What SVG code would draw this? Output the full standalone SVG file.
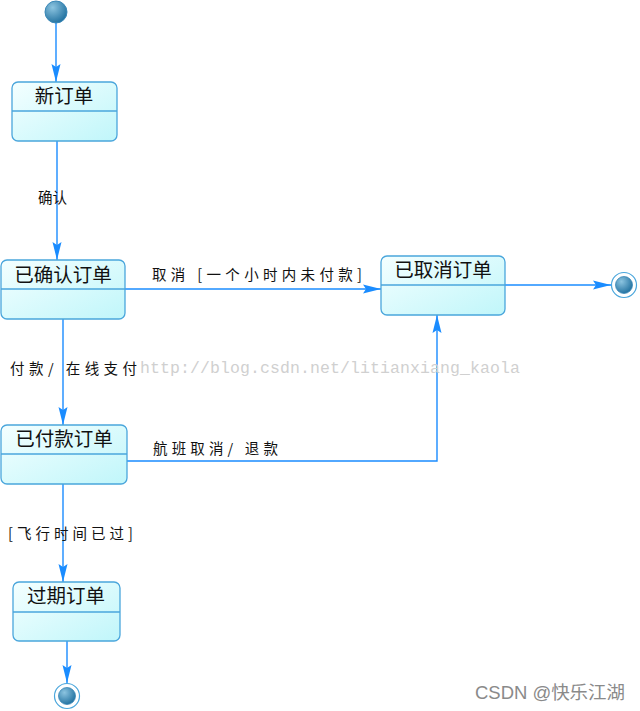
<svg xmlns="http://www.w3.org/2000/svg" width="640" height="711" viewBox="0 0 640 711">
<style>
.box{fill:url(#bg);stroke:#4aa6dc;stroke-width:1.3}
.div{stroke:#4aa6dc;stroke-width:1.3}
.title{font-family:"Noto Sans CJK SC","Noto Sans CJK JP",sans-serif;font-size:19.5px;fill:#111;text-anchor:middle}
.lbl{font-family:"Noto Sans CJK SC","Noto Sans CJK JP",sans-serif;font-size:14.5px;fill:#111}
.edge{stroke:#1a8cff;stroke-width:1.4;fill:none}
.wm{font-family:"Liberation Mono",monospace;font-size:16.5px;fill:#d0d0d0}
.csdn{font-family:"Liberation Sans","Noto Sans CJK SC",sans-serif;font-size:18px;fill:#8a8a8a}
</style>
<defs>
<linearGradient id="bg" x1="0" y1="0" x2="1" y2="1">
<stop offset="0" stop-color="#f4ffff"/>
<stop offset="1" stop-color="#c0f6fa"/>
</linearGradient>
<radialGradient id="ball" cx="0.35" cy="0.3" r="0.75">
<stop offset="0" stop-color="#8cc4e0"/>
<stop offset="1" stop-color="#1f6f9e"/>
</radialGradient>
<marker id="arr" markerUnits="userSpaceOnUse" markerWidth="18" markerHeight="10" refX="18" refY="5" orient="auto">
<path d="M0,0.5 L18,5 L0,9.5 L3,5 z" fill="#1a8cff"/>
</marker>
</defs>

<g id="connectors">
<line class="edge" x1="56" y1="23" x2="56" y2="82" marker-end="url(#arr)"/>
<line class="edge" x1="57" y1="141" x2="57" y2="260" marker-end="url(#arr)"/>
<text class="lbl" x="38" y="203">确认</text>
<line class="edge" x1="125" y1="289" x2="381" y2="289" marker-end="url(#arr)"/>
<text class="lbl" x="152" y="280" textLength="210" lengthAdjust="spacing">取消 [一个小时内未付款]</text>
<line class="edge" x1="505" y1="285" x2="611" y2="285" marker-end="url(#arr)"/>
<line class="edge" x1="63" y1="319" x2="63" y2="425" marker-end="url(#arr)"/>
<text class="lbl" x="10" y="374" textLength="127" lengthAdjust="spacing">付款/ 在线支付</text>
<polyline class="edge" points="127,461 437,461 437,315" marker-end="url(#arr)"/>
<text class="lbl" x="153" y="454" textLength="125" lengthAdjust="spacing">航班取消/ 退款</text>
<line class="edge" x1="63" y1="484" x2="63" y2="582" marker-end="url(#arr)"/>
<text class="lbl" x="8" y="539" textLength="125" lengthAdjust="spacing">[飞行时间已过]</text>
<line class="edge" x1="67" y1="641" x2="67" y2="683" marker-end="url(#arr)"/>
</g>

<g id="initial">
<circle cx="56" cy="12" r="11" fill="url(#ball)" stroke="#3a88b8" stroke-width="1"/>
</g>

<g id="n_new">
<rect class="box" x="12" y="82" width="105" height="59" rx="6"/>
<line class="div" x1="12" y1="111" x2="117" y2="111"/>
<text class="title" x="64" y="103">新订单</text>
</g>

<g id="n_confirmed">
<rect class="box" x="1" y="260" width="124" height="59" rx="6"/>
<line class="div" x1="1" y1="289" x2="125" y2="289"/>
<text class="title" x="63" y="282">已确认订单</text>
</g>

<g id="n_cancelled">
<rect class="box" x="381" y="256" width="124" height="59" rx="6"/>
<line class="div" x1="381" y1="285" x2="505" y2="285"/>
<text class="title" x="443" y="277">已取消订单</text>
</g>

<g id="n_paid">
<rect class="box" x="1" y="425" width="126" height="59" rx="6"/>
<line class="div" x1="1" y1="454" x2="127" y2="454"/>
<text class="title" x="64" y="446">已付款订单</text>
</g>

<g id="n_expired">
<rect class="box" x="13" y="582" width="107" height="59" rx="6"/>
<line class="div" x1="13" y1="612" x2="120" y2="612"/>
<text class="title" x="66" y="603">过期订单</text>
</g>

<g id="final_right">
<circle cx="624" cy="285" r="12.5" fill="#fff" stroke="#4aa6dc" stroke-width="1.2"/>
<circle cx="624" cy="285" r="8.5" fill="url(#ball)" stroke="#3a88b8" stroke-width="0.8"/>
</g>

<g id="final_bottom">
<circle cx="67" cy="696" r="12.5" fill="#fff" stroke="#4aa6dc" stroke-width="1.2"/>
<circle cx="67" cy="696" r="8.5" fill="url(#ball)" stroke="#3a88b8" stroke-width="0.8"/>
</g>

<text class="wm" x="140" y="373" textLength="380" lengthAdjust="spacing">http://blog.csdn.net/litianxiang_kaola</text>
<text class="csdn" x="475" y="699" textLength="150" lengthAdjust="spacingAndGlyphs">CSDN @快乐江湖</text>
</svg>
